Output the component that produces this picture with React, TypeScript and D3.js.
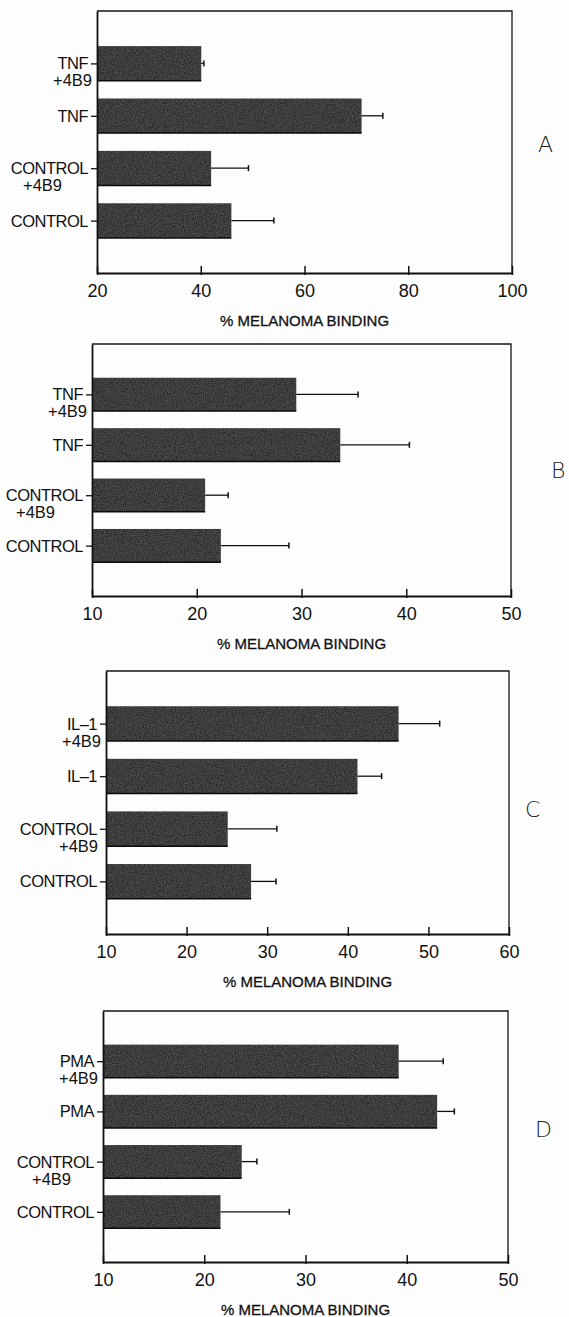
import React, { useEffect, useRef } from "react";
import * as d3 from "d3";

const FONT = "'Liberation Sans', Arial, Helvetica, sans-serif";

// panel A: TNF
const catsA = ["TNF\n+4B9", "TNF", "CONTROL\n+4B9", "CONTROL"];
const bindingA = [40.1, 71.0, 42.0, 45.9];
const errA = [0.5, 4.1, 7.2, 8.2];
const ticksA = [20, 40, 60, 80, 100];

// panel B: TNF
const catsB = ["TNF\n+4B9", "TNF", "CONTROL\n+4B9", "CONTROL"];
const bindingB = [29.5, 33.7, 20.8, 22.3];
const errB = [5.9, 6.6, 2.2, 6.5];
const ticksB = [10, 20, 30, 40, 50];

// panel C: IL-1
const catsC = ["IL\u20131\n+4B9", "IL\u20131", "CONTROL\n+4B9", "CONTROL"];
const bindingC = [46.3, 41.2, 25.1, 28.0];
const errC = [5.1, 3.0, 6.1, 3.1];
const ticksC = [10, 20, 30, 40, 50, 60];

// panel D: PMA
const catsD = ["PMA\n+4B9", "PMA", "CONTROL\n+4B9", "CONTROL"];
const bindingD = [39.2, 43.0, 23.7, 21.6];
const errD = [4.4, 1.7, 1.5, 6.8];
const ticksD = [10, 20, 30, 40, 50];

const axisTitle = "% MELANOMA BINDING";

const panels = [
    { letter: "A", cats: catsA, values: bindingA, errs: errA, ticks: ticksA,
      box: { l: 97, r: 512, t: 11, b: 273 }, letterPos: [538, 152], ctrlSub: ["start", -74] },
    { letter: "B", cats: catsB, values: bindingB, errs: errB, ticks: ticksB,
      box: { l: 92, r: 511, t: 344, b: 596 }, letterPos: [551, 478], ctrlSub: ["start", -76] },
    { letter: "C", cats: catsC, values: bindingC, errs: errC, ticks: ticksC,
      box: { l: 106, r: 509, t: 671, b: 934 }, letterPos: [525, 817], ctrlSub: ["end", -8] },
    { letter: "D", cats: catsD, values: bindingD, errs: errD, ticks: ticksD,
      box: { l: 103, r: 508, t: 1011, b: 1262 }, letterPos: [535, 1137], ctrlSub: ["start", -71] },
];

function drawPanel(svg: any, p: any) {
    const { l, r, t, b } = p.box;
    const x = d3.scaleLinear()
        .domain([p.ticks[0], p.ticks[p.ticks.length - 1]])
        .range([l, r]);
    const y = d3.scalePoint<string>()
        .domain(p.cats)
        .range([t, b])
        .padding(1);
    const bh = y.step() * 0.66;
    const rows = p.cats.map((c: string, i: number) => ({ c, v: p.values[i], e: p.errs[i] }));

    const g = svg.append("g");

    // top + right frame
    g.append("path")
        .attr("d", `M${l},${t}H${r}V${b}`)
        .attr("fill", "none")
        .attr("stroke", "#151515")
        .attr("stroke-width", 1.3);

    // bars
    g.selectAll("rect.bar")
        .data(rows)
        .join("rect")
        .attr("class", "bar")
        .attr("x", l)
        .attr("y", (d: any) => y(d.c)! - bh / 2)
        .attr("width", (d: any) => x(d.v) - l)
        .attr("height", bh)
        .attr("fill", "#2b2b2b")
        .attr("filter", "url(#grain)");
    g.selectAll("line.base")
        .data(rows)
        .join("line")
        .attr("class", "base")
        .attr("x1", l)
        .attr("x2", (d: any) => x(d.v))
        .attr("y1", (d: any) => y(d.c)! + bh / 2)
        .attr("y2", (d: any) => y(d.c)! + bh / 2)
        .attr("stroke", "#0a0a0a")
        .attr("stroke-width", 1.5);

    // error bars (upper side only)
    g.selectAll("line.err")
        .data(rows)
        .join("line")
        .attr("class", "err")
        .attr("x1", (d: any) => x(d.v))
        .attr("x2", (d: any) => x(d.v + d.e))
        .attr("y1", (d: any) => y(d.c)!)
        .attr("y2", (d: any) => y(d.c)!)
        .attr("stroke", "#111")
        .attr("stroke-width", 1.3);
    g.selectAll("line.cap")
        .data(rows)
        .join("line")
        .attr("class", "cap")
        .attr("x1", (d: any) => x(d.v + d.e))
        .attr("x2", (d: any) => x(d.v + d.e))
        .attr("y1", (d: any) => y(d.c)! - 3)
        .attr("y2", (d: any) => y(d.c)! + 3)
        .attr("stroke", "#111")
        .attr("stroke-width", 1.5);

    // x axis, ticks pointing inward
    const xa = g.append("g")
        .attr("transform", `translate(0,${b})`)
        .call(d3.axisBottom(x).tickValues(p.ticks).tickSizeInner(-7).tickSizeOuter(0).tickPadding(11));
    xa.select(".domain").attr("stroke", "#111").attr("stroke-width", 1.8);
    xa.selectAll(".tick line").attr("y1", 2).attr("stroke", "#111").attr("stroke-width", 1.5);
    xa.selectAll(".tick text")
        .attr("font-size", 18)
        .attr("font-family", FONT)
        .attr("fill", "#111");

    // y axis
    const ya = g.append("g")
        .attr("transform", `translate(${l},0)`)
        .call(d3.axisLeft(y).tickSize(6).tickSizeOuter(0).tickFormat(() => ""));
    ya.select(".domain").attr("stroke", "#111").attr("stroke-width", 1.8);
    ya.selectAll(".tick line").attr("stroke", "#111").attr("stroke-width", 1.3);

    // category labels (two lines)
    rows.forEach((d: any) => {
        const [first, second] = d.c.split("\n");
        const cy = y(d.c)!;
        g.append("text")
            .attr("x", l - 9)
            .attr("y", cy + 6)
            .attr("text-anchor", "end")
            .attr("font-family", FONT)
            .attr("font-size", 16.5)
            .attr("letter-spacing", -0.5)
            .attr("fill", "#111")
            .text(first);
        if (second) {
            const isCtrl = first === "CONTROL";
            g.append("text")
                .attr("x", isCtrl ? l + p.ctrlSub[1] : l - 5)
                .attr("y", cy + 23)
                .attr("text-anchor", isCtrl ? p.ctrlSub[0] : "end")
                .attr("font-family", FONT)
                .attr("font-size", 16.5)
                .attr("fill", "#111")
                .text(second);
        }
    });

    // axis title
    g.append("text")
        .attr("x", (l + r) / 2)
        .attr("y", b + 53)
        .attr("text-anchor", "middle")
        .attr("font-family", FONT)
        .attr("font-size", 15)
        .attr("fill", "#111")
        .attr("stroke", "#111")
        .attr("stroke-width", 0.3)
        .text(axisTitle);

    // panel letter
    g.append("text")
        .attr("x", p.letterPos[0])
        .attr("y", p.letterPos[1])
        .attr("font-family", "'DejaVu Sans', " + FONT)
        .attr("font-weight", 200)
        .attr("font-size", 22)
        .attr("fill", "#222")
        .text(p.letter);
}

export default function App() {
    const ref = useRef<SVGSVGElement>(null);

    useEffect(() => {
        const svg = d3.select(ref.current);
        svg.selectAll("*").remove();

        // faint grain so the bars look like the printed original
        const defs = svg.append("defs");
        const f = defs.append("filter")
            .attr("id", "grain")
            .attr("x", 0).attr("y", 0).attr("width", "100%").attr("height", "100%");
        f.append("feTurbulence")
            .attr("type", "fractalNoise")
            .attr("baseFrequency", 0.9)
            .attr("numOctaves", 2)
            .attr("seed", 4)
            .attr("result", "noise");
        f.append("feColorMatrix")
            .attr("in", "noise")
            .attr("type", "matrix")
            .attr("values", "0 0 0 0 0.5  0 0 0 0 0.5  0 0 0 0 0.5  0 0 0 0.25 -0.07")
            .attr("result", "specks");
        f.append("feComposite")
            .attr("in", "specks")
            .attr("in2", "SourceGraphic")
            .attr("operator", "in")
            .attr("result", "clipped");
        const m = f.append("feMerge");
        m.append("feMergeNode").attr("in", "SourceGraphic");
        m.append("feMergeNode").attr("in", "clipped");

        panels.forEach(p => drawPanel(svg, p));
    }, []);

    return (
        <svg
            ref={ref}
            width={569}
            height={1317}
            style={{ position: "absolute", left: 0, top: 0, background: "#fdfdfd" }}
        />
    );
}
